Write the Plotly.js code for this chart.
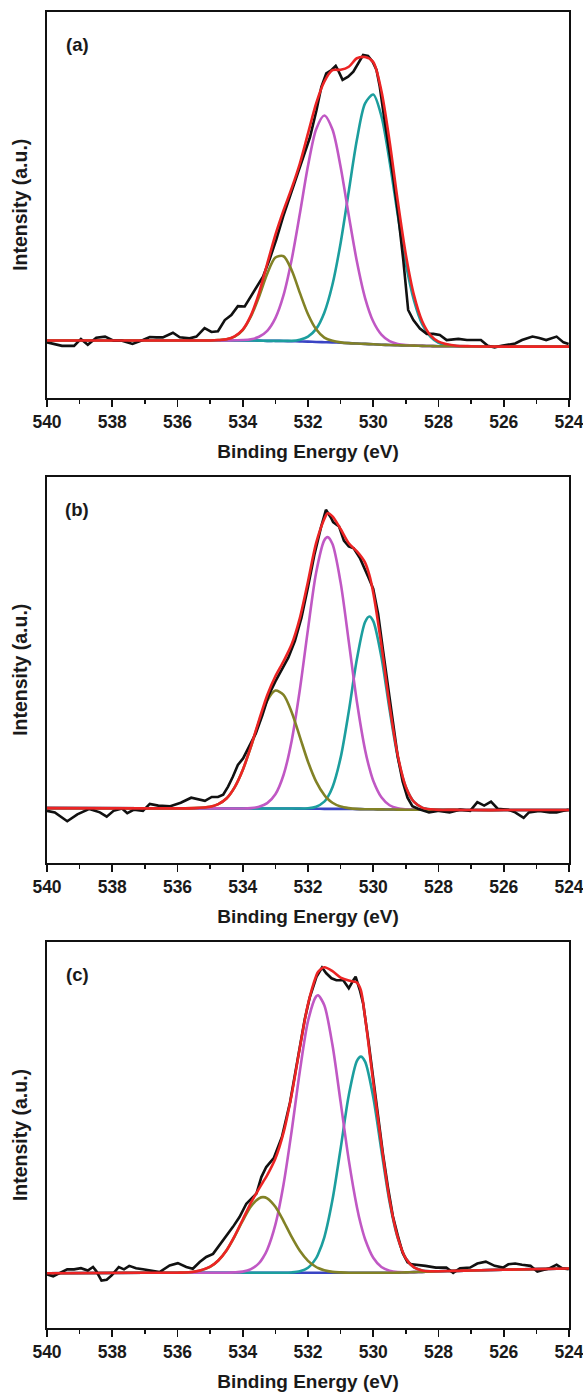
<!DOCTYPE html>
<html>
<head>
<meta charset="utf-8">
<script src="https://cdn.plot.ly/plotly-3.0.1.min.js"></script>
<style>html,body{margin:0;padding:0;background:#fff;}#chart{width:583px;height:1394px;}</style>
</head>
<body>
<div id="chart"></div>
<script>
// ---------- Panel (a) ----------
const aFitE = [540,537,536,535.5,535,534.75,534.5,534.25,534,533.75,533.5,533.25,533,532.75,532.5,532.25,532,531.75,531.5,531.25,531,530.75,530.5,530.25,530,529.75,529.5,529.25,529,528.75,528.5,528.25,528,527.5,527,526,524];
const aBackground = [14.8,14.8,14.8,14.8,14.8,14.8,14.8,14.8,14.8,14.8,14.75,14.7,14.7,14.65,14.6,14.55,14.5,14.4,14.35,14.3,14.2,14.1,14.0,13.9,13.8,13.7,13.6,13.55,13.5,13.45,13.4,13.35,13.3,13.3,13.25,13.2,13.2];
const aCyan = [14.8,14.8,14.8,14.8,14.8,14.8,14.8,14.8,14.8,14.8,14.75,14.7,14.7,14.7,14.7,15.0,15.8,17.8,22.0,29.3,40.1,53.5,66.9,76.3,78.6,73.0,61.3,47.4,34.6,25.1,19.0,15.8,14.2,13.4,13.3,13.2,13.2];
const aMagenta = [14.8,14.8,14.8,14.8,14.8,14.8,14.8,14.85,14.9,15.1,15.75,17.3,20.6,26.55,35.8,47.65,60.1,69.6,73.15,69.5,59.8,47.2,35.2,25.8,19.7,16.3,14.6,13.9,13.6,13.45,13.4,13.35,13.3,13.3,13.25,13.2,13.2];
const aOlive = [14.8,14.8,14.8,14.8,14.8,14.9,15.1,15.8,17.5,21.0,26.15,32.1,36.3,36.65,33.0,27.15,21.6,17.7,15.55,14.7,14.3,14.1,14.0,13.9,13.8,13.7,13.6,13.55,13.5,13.45,13.4,13.35,13.3,13.3,13.25,13.2,13.2];
const aEnvelope = [14.8,14.8,14.8,14.8,14.8,14.9,15.1,15.85,17.6,21.3,27.15,34.7,42.2,48.55,54.3,60.7,68.5,76.3,81.95,84.9,85.0,85.8,88.0,88.3,87.0,79.5,66.5,51.0,37.0,26.5,19.8,16.2,14.5,13.5,13.3,13.2,13.2];
const aRawE = [540.0,539.81,539.54,539.17,538.96,538.75,538.49,538.22,537.96,537.70,537.38,537.06,536.85,536.65,536.45,536.14,535.93,535.63,535.42,535.17,534.96,534.76,534.55,534.35,534.15,533.94,533.79,533.58,533.38,533.17,532.97,532.76,532.56,532.35,532.15,531.94,531.74,531.59,531.44,531.28,531.15,531.08,530.94,530.77,530.61,530.46,530.31,530.16,530.02,529.90,529.80,529.70,529.54,529.39,529.23,529.08,528.93,528.77,528.57,528.36,528.16,527.96,527.75,527.39,527.13,526.70,526.49,526.28,526.07,525.65,525.44,525.12,524.91,524.70,524.38,524.17,524.01];
const aRaw = [14.3,14.0,13.4,13.4,15.2,13.7,15.5,15.8,14.75,14.75,13.9,14.9,15.7,15.6,15.6,16.8,15.6,15.35,15.8,18.0,17.0,17.2,20.1,21.4,23.7,23.6,25.7,28.75,31.35,36.0,41.0,47.0,52.0,57.0,62.0,67.5,74.5,80.6,84.1,84.95,86.0,84.95,82.4,83.2,84.5,86.7,88.85,88.6,87.1,84.95,80.6,74.6,65.9,57.3,46.9,35.7,22.7,20.1,17.9,16.5,16.5,16.2,14.9,15.2,14.9,14.9,13.4,13.0,13.4,14.0,14.9,15.8,15.45,14.9,15.8,14.3,13.9];

// ---------- Panel (b) ----------
const bFitE = [540,537,536,535.5,535,534.75,534.5,534.25,534,533.75,533.5,533.25,533,532.75,532.5,532.25,532,531.75,531.5,531.4,531.25,531,530.75,530.5,530.25,530.12,530,529.75,529.5,529.25,529,528.75,528.5,528.25,528,527.5,527,526,524];
const bBackground = [14.1,14.05,14.05,14.05,14.05,14.05,14.0,14.0,14.0,14.0,14.0,14.0,14.0,14.0,14.0,13.97,13.95,13.94,13.92,13.9,13.9,13.9,13.87,13.85,13.82,13.8,13.8,13.78,13.75,13.72,13.7,13.7,13.7,13.65,13.65,13.65,13.6,13.6,13.6];
const bCyan = [14.1,14.05,14.05,14.05,14.05,14.05,14.0,14.0,14.0,14.0,14.0,14.0,14.0,14.0,14.0,14.0,14.07,14.47,15.8,16.9,19.5,27.2,39.2,52.85,62.4,63.8,62.6,53.3,39.65,27.4,19.5,15.7,14.25,13.8,13.67,13.65,13.6,13.6,13.6];
const bMagenta = [14.1,14.05,14.05,14.05,14.05,14.05,14.0,14.0,14.0,14.1,14.45,15.4,17.7,22.7,31.6,44.8,60.55,75.25,83.6,84.4,82.6,72.6,57.3,41.65,29.2,24.55,21.2,16.9,14.85,14.05,13.8,13.7,13.7,13.65,13.65,13.65,13.6,13.6,13.6];
const bOlive = [14.1,14.05,14.05,14.1,14.45,15.15,16.6,19.5,24.0,30.0,36.5,42.0,44.6,43.5,39.0,32.6,26.15,21.0,17.5,16.55,15.5,14.5,14.1,13.9,13.82,13.8,13.8,13.78,13.75,13.72,13.7,13.7,13.7,13.65,13.65,13.65,13.6,13.6,13.6];
const bEnvelope = [14.1,14.05,14.05,14.1,14.45,15.15,16.6,19.5,24.0,30.1,36.95,43.4,48.3,52.2,56.6,63.4,72.9,82.9,89.1,90.6,89.8,86.5,82.8,80.7,77.8,74.6,70.0,56.4,40.75,27.8,19.6,15.7,14.25,13.8,13.65,13.65,13.6,13.6,13.6];
const bRawE = [540.0,539.76,539.38,539.07,538.70,538.38,538.17,537.96,537.70,537.54,537.33,537.06,536.85,536.59,536.22,535.90,535.58,535.37,535.16,534.95,534.76,534.60,534.45,534.30,534.15,533.99,533.84,533.60,533.40,533.20,533.00,532.80,532.60,532.40,532.20,532.00,531.80,531.60,531.45,531.30,531.23,531.05,530.90,530.75,530.60,530.41,530.30,530.15,530.00,529.85,529.70,529.55,529.40,529.25,529.10,528.95,528.80,528.61,528.29,527.98,527.66,527.34,527.03,526.81,526.60,526.39,526.18,525.86,525.65,525.39,525.23,524.91,524.59,524.38,524.17,524.01];
const bRaw = [13.4,13.0,10.7,12.5,13.9,13.0,11.9,13.4,14.0,12.8,13.7,13.4,15.2,14.75,14.6,15.5,16.8,16.3,16.0,17.0,17.0,17.6,19.7,22.3,25.3,27.0,29.6,33.5,38.2,43.5,47.0,50.3,53.2,57.5,63.5,71.5,80.0,87.0,91.5,89.5,88.3,87.2,83.5,82.0,81.5,79.0,77.0,74.0,71.0,64.5,55.0,45.5,36.0,27.5,21.0,16.8,14.6,13.9,13.0,13.4,13.0,13.7,13.4,15.65,14.75,15.8,13.9,13.7,13.0,11.6,13.0,13.4,13.0,13.0,13.4,13.7];

// ---------- Panel (c) ----------
const cFitE = [540,537,536,535.5,535,534.75,534.5,534.25,534,533.75,533.5,533.38,533.25,533,532.75,532.5,532.25,532,531.75,531.69,531.5,531.25,531,530.75,530.5,530.38,530.25,530,529.75,529.5,529.25,529,528.75,528.5,528.25,528,527.5,527,526,524];
const cBackground = [14.2,14.3,14.3,14.3,14.3,14.3,14.3,14.3,14.3,14.3,14.3,14.3,14.3,14.3,14.3,14.3,14.3,14.3,14.3,14.3,14.3,14.3,14.3,14.3,14.3,14.3,14.3,14.3,14.3,14.3,14.35,14.4,14.47,14.55,14.6,14.7,14.8,14.9,15.1,15.4];
const cCyan = [14.2,14.3,14.3,14.3,14.3,14.3,14.3,14.3,14.3,14.3,14.3,14.3,14.3,14.3,14.3,14.4,14.7,15.6,18.1,19.1,23.5,33.2,46.5,60.3,69.2,70.3,69.0,59.8,46.0,32.7,23.35,18.0,15.7,14.9,14.7,14.7,14.8,14.9,15.1,15.4];
const cMagenta = [14.2,14.3,14.3,14.3,14.3,14.3,14.3,14.4,14.6,15.25,16.8,18.2,20.3,26.8,37.2,51.1,66.5,79.5,85.9,86.2,83.6,73.3,58.5,43.5,31.3,26.8,23.0,18.2,15.8,14.85,14.5,14.45,14.47,14.55,14.6,14.7,14.8,14.9,15.1,15.4];
const cOlive = [14.2,14.3,14.33,14.55,15.85,17.5,20.1,23.7,27.8,31.5,33.6,33.9,33.6,31.4,27.7,23.6,20.0,17.4,15.8,15.55,14.95,14.55,14.4,14.3,14.3,14.3,14.3,14.3,14.3,14.3,14.35,14.4,14.47,14.55,14.6,14.7,14.8,14.9,15.1,15.4];
const cEnvelope = [14.2,14.3,14.33,14.56,15.9,17.5,20.1,23.8,28.1,32.45,36.1,37.8,39.6,43.9,50.6,60.5,72.6,83.9,91.2,92.25,93.45,92.45,90.8,90.0,89.5,87.5,80.5,63.7,47.5,33.2,23.5,18.0,15.7,14.9,14.7,14.7,14.8,14.9,15.1,15.4];
const cRawE = [540.0,539.81,539.60,539.38,539.17,538.96,538.75,538.59,538.49,538.33,538.17,538.01,537.80,537.64,537.48,537.27,537.06,536.85,536.55,536.24,535.99,535.73,535.53,535.32,535.12,534.91,534.71,534.50,534.30,534.10,533.89,533.69,533.58,533.43,533.28,533.05,532.80,532.55,532.30,532.10,531.95,531.74,531.57,531.44,531.28,531.13,530.92,530.75,530.61,530.54,530.41,530.31,530.15,530.00,529.85,529.70,529.55,529.40,529.25,529.10,528.95,528.82,528.40,528.08,527.76,527.55,527.34,527.03,526.81,526.55,526.28,526.02,525.86,525.65,525.44,525.18,524.97,524.81,524.59,524.38,524.22,524.01];
const cRaw = [13.9,13.4,14.3,15.2,15.2,15.5,14.9,15.8,14.75,12.3,12.5,13.7,15.8,15.2,16.1,15.5,15.2,14.9,14.5,16.2,16.8,15.8,15.35,17.1,18.4,19.2,21.4,24.0,26.2,28.75,32.2,33.9,34.8,39.1,41.7,44.0,49.5,58.5,70.0,80.0,85.5,91.0,93.4,91.9,90.6,90.1,90.1,88.0,90.1,91.0,87.5,84.1,74.5,64.5,55.0,45.0,36.5,29.0,24.0,19.5,17.0,16.5,16.1,15.65,15.65,14.3,15.5,15.65,16.7,17.2,16.1,15.65,16.5,16.7,16.4,16.1,14.6,14.9,15.5,16.4,15.5,15.2];

const panelLabels = ['(a)','(b)','(c)'];
const xTickVals = [540,538,536,534,532,530,528,526,524];
const xTitle = 'Binding Energy (eV)';
const yTitle = 'Intensity (a.u.)';

// ---------- styling ----------
const COL = {raw:'#111111', fit:'#ec2424', bg:'#3a44c4', cyan:'#1c9e9e', magenta:'#c058c4', olive:'#828226'};
const LW = 2.6;
const FONT = 'Liberation Sans, Arial, Helvetica, sans-serif';

const panels = [
  {fitE:aFitE, bg:aBackground, cyan:aCyan, mag:aMagenta, olive:aOlive, env:aEnvelope, rawE:aRawE, raw:aRaw},
  {fitE:bFitE, bg:bBackground, cyan:bCyan, mag:bMagenta, olive:bOlive, env:bEnvelope, rawE:bRawE, raw:bRaw},
  {fitE:cFitE, bg:cBackground, cyan:cCyan, mag:cMagenta, olive:cOlive, env:cEnvelope, rawE:cRawE, raw:cRaw}
];

const traces = [];
panels.forEach((p, i) => {
  const xa = i === 0 ? 'x' : 'x' + (i + 1);
  const ya = i === 0 ? 'y' : 'y' + (i + 1);
  const sp = {shape:'spline', smoothing:0.8, width:LW};
  traces.push({x:p.fitE, y:p.bg, xaxis:xa, yaxis:ya, mode:'lines', line:Object.assign({color:COL.bg}, sp)});
  traces.push({x:p.fitE, y:p.cyan, xaxis:xa, yaxis:ya, mode:'lines', line:Object.assign({color:COL.cyan}, sp)});
  traces.push({x:p.fitE, y:p.mag, xaxis:xa, yaxis:ya, mode:'lines', line:Object.assign({color:COL.magenta}, sp)});
  traces.push({x:p.fitE, y:p.olive, xaxis:xa, yaxis:ya, mode:'lines', line:Object.assign({color:COL.olive}, sp)});
  traces.push({x:p.rawE, y:p.raw, xaxis:xa, yaxis:ya, mode:'lines', line:{color:COL.raw, width:LW}});
  traces.push({x:p.fitE, y:p.env, xaxis:xa, yaxis:ya, mode:'lines', line:Object.assign({color:COL.fit}, sp)});
});

// pixel geometry of the three frames
const W = 583, H = 1394;
const mL = 47, mR = 14, mT = 12, mB = 66;
const plotH = H - mT - mB;
const frames = [[12, 397.5], [477, 862.5], [942, 1328]];
function dom(top, bot) {
  return [Math.max(0, 1 - (bot - mT) / plotH), Math.min(1, 1 - (top - mT) / plotH)];
}

const layout = {
  width: W, height: H,
  margin: {l:mL, r:mR, t:mT, b:mB},
  paper_bgcolor:'#ffffff', plot_bgcolor:'#ffffff',
  showlegend:false,
  font:{family:FONT, color:'#1a1a1a'},
  annotations: []
};

frames.forEach((f, i) => {
  const sfx = i === 0 ? '' : String(i + 1);
  layout['xaxis' + sfx] = {
    anchor: 'y' + sfx,
    domain: [0, 1],
    range: [540, 524],
    tickmode: 'array', tickvals: xTickVals,
    ticklabeloverflow: 'allow',
    ticks: 'outside', ticklen: 7, tickwidth: 1.6, tickcolor: '#111',
    minor: {tickmode:'linear', tick0:539, dtick:2, ticks:'outside', ticklen:4, tickwidth:1.6, tickcolor:'#111', showgrid:false},
    showline: true, linewidth: 2, linecolor: '#111', mirror: true,
    showgrid: false, zeroline: false,
    tickfont: {family:FONT, size:17.5, weight:'bold', color:'#1a1a1a'},
    title: {text: xTitle, font:{family:FONT, size:19, weight:'bold', color:'#1a1a1a'}, standoff: 14}
  };
  layout['yaxis' + sfx] = {
    anchor: 'x' + sfx,
    domain: dom(f[0], f[1]),
    range: [0, 100],
    showticklabels: false, ticks: '',
    showline: true, linewidth: 2, linecolor: '#111', mirror: true,
    showgrid: false, zeroline: false,
    title: {text: yTitle, font:{family:FONT, size:19.5, weight:'bold', color:'#1a1a1a'}, standoff: 12}
  };
  layout.annotations.push({
    text: panelLabels[i], xref: 'x' + sfx + ' domain', yref: 'y' + sfx + ' domain',
    x: 0.0575, y: 0.916, xanchor: 'center', yanchor: 'middle', showarrow: false,
    font: {family:FONT, size:18.5, weight:'bold', color:'#1a1a1a'}
  });
});

Plotly.newPlot('chart', traces, layout, {staticPlot:true, displayModeBar:false});
</script>
</body>
</html>
